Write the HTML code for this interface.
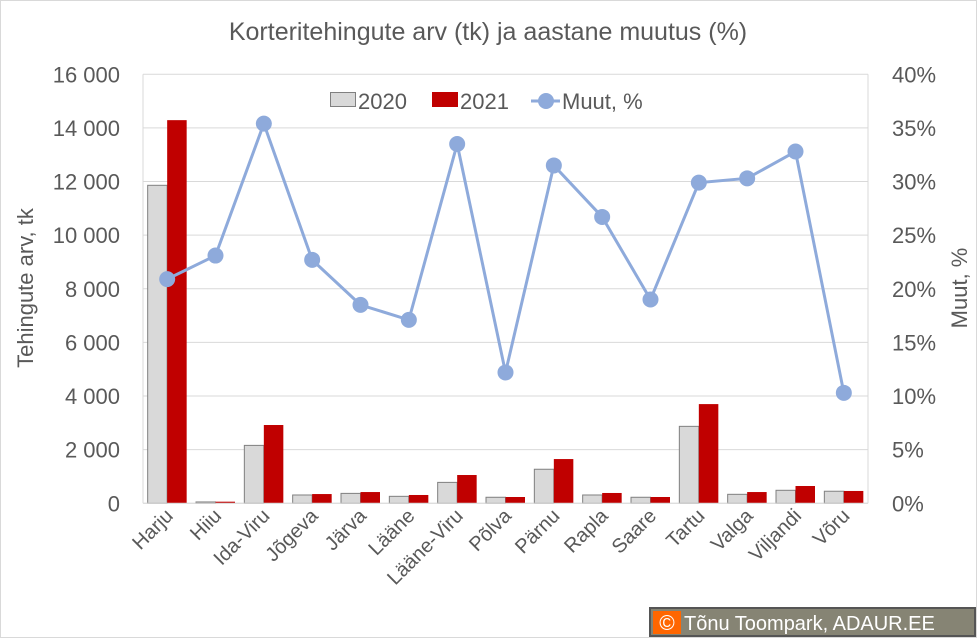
<!DOCTYPE html>
<html><head><meta charset="utf-8"><style>
body{margin:0;background:#fff;}
svg{display:block;font-family:"Liberation Sans",sans-serif;}
</style></head><body>
<svg id="chart" width="977" height="638" viewBox="0 0 977 638">
<rect x="0.5" y="0.5" width="976" height="637" fill="#fff" stroke="#d9d9d9"/>
<text x="488" y="40" text-anchor="middle" font-size="25" fill="#595959">Korteritehingute arv (tk) ja aastane muutus (%)</text>
<g id="grid"></g><g id="bars"></g><g id="line"></g><g id="axes"></g>
<text transform="translate(33,288) rotate(-90)" text-anchor="middle" font-size="22" fill="#595959">Tehingute arv, tk</text>
<text transform="translate(967,288) rotate(-90)" text-anchor="middle" font-size="22" fill="#595959">Muut, %</text>
<g>
<g><rect x="330.5" y="92.5" width="25" height="14" fill="#d9d9d9" stroke="#808080"/><text x="358" y="109" font-size="22" fill="#595959">2020</text></g>
<g><rect x="432" y="92" width="26" height="15" fill="#c00000"/><text x="460" y="109" font-size="22" fill="#595959">2021</text></g>
<g><line x1="531" y1="101" x2="560" y2="101" stroke="#8eaadb" stroke-width="3"/><circle cx="546" cy="101" r="8" fill="#8eaadb"/><text x="562" y="109" font-size="22" fill="#595959">Muut, %</text></g>
</g>
<g>
<rect x="650" y="608" width="325" height="28" fill="#868474" stroke="#555" stroke-width="2"/>
<rect x="653" y="611" width="28" height="23" fill="#ff6600"/>
<text x="667" y="630" text-anchor="middle" font-size="21" fill="#fff">©</text>
<text x="684" y="630" font-size="20" fill="#fff">Tõnu Toompark, ADAUR.EE</text>
</g>
</svg>
<script>
const categories=["Harju","Hiiu","Ida-Viru","Jõgeva","Järva","Lääne","Lääne-Viru","Põlva","Pärnu","Rapla","Saare","Tartu","Valga","Viljandi","Võru"];
const values2020=[11860,50,2160,310,370,260,780,225,1270,310,225,2870,335,485,450];
const values2021=[14290,60,2920,345,420,310,1055,235,1650,385,235,3700,420,645,460];
const changePct=[20.9,23.1,35.4,22.7,18.5,17.1,33.5,12.2,31.5,26.7,19.0,29.9,30.3,32.8,10.3];
const leftTicks=[0,2000,4000,6000,8000,10000,12000,14000,16000];
const rightTicks=[0,5,10,15,20,25,30,35,40];
const NS="http://www.w3.org/2000/svg";
const X0=143,X1=868,Y0=503.3,Y1=74.3;
const band=(X1-X0)/categories.length;
const xc=i=>X0+band*(i+0.5);
const yL=v=>Y0-(v/16000)*(Y0-Y1);
const yR=v=>Y0-(v/40)*(Y0-Y1);
function mk(tag,attrs,parent){const e=document.createElementNS(NS,tag);for(const k in attrs)e.setAttribute(k,attrs[k]);document.getElementById(parent).appendChild(e);return e;}
const fmt=v=>v>=1000?Math.floor(v/1000)+" "+String(v%1000).padStart(3,"0"):String(v);
leftTicks.forEach((t,i)=>{
  const g=mk("line",{x1:X0,x2:X1,y1:yL(t),y2:yL(t),stroke:"#d9d9d9","stroke-width":1},"grid");
  
  
  const tx=mk("text",{x:120,y:yL(t)+8,"text-anchor":"end","font-size":22,fill:"#595959"},"axes");
  tx.textContent=fmt(t);
  
  
});
rightTicks.forEach(t=>{
  const tx=mk("text",{x:892,y:yR(t)+8,"font-size":22,fill:"#595959"},"axes");
  tx.textContent=t+"%";
  
  
});
const vl=mk("line",{x1:X0,x2:X0,y1:Y1,y2:Y0,stroke:"#d9d9d9"},"axes");


const vr=mk("line",{x1:X1,x2:X1,y1:Y1,y2:Y0,stroke:"#d9d9d9"},"axes");


const bw=19.5;
categories.forEach((c,i)=>{
  const cx=xc(i);
  const b1=mk("rect",{x:cx-bw,y:yL(values2020[i]),width:bw,height:Y0-yL(values2020[i]),fill:"#d9d9d9",stroke:"#808080","stroke-width":1},"bars");
  
  
  const b2=mk("rect",{x:cx,y:yL(values2021[i]),width:bw,height:Y0-yL(values2021[i]),fill:"#c00000"},"bars");
  
  
  const t=mk("text",{transform:`translate(${cx+7},${517}) rotate(-45)`,"text-anchor":"end","font-size":20,fill:"#595959"},"axes");
  t.textContent=c;
  
  
});
const xa=mk("line",{x1:X0,x2:X1,y1:Y0,y2:Y0,stroke:"#d9d9d9"},"axes");


const pl=mk("polyline",{points:changePct.map((v,i)=>xc(i)+","+yR(v)).join(" "),fill:"none",stroke:"#8eaadb","stroke-width":3},"line");


changePct.forEach((v,i)=>{
  const p=mk("circle",{cx:xc(i),cy:yR(v),r:8,fill:"#8eaadb"},"line");
  
  
});
</script>
</body></html>
